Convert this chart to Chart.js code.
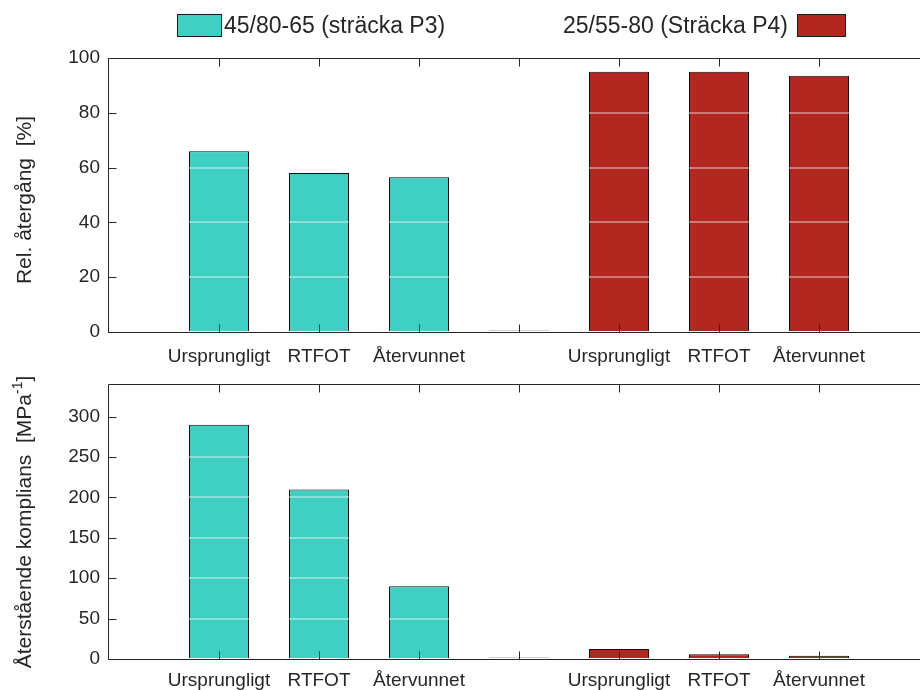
<!DOCTYPE html>
<html>
<head>
<meta charset="utf-8">
<script src="https://cdn.jsdelivr.net/npm/chart.js@4.4.1/dist/chart.umd.min.js"></script>
<style>
  html, body { margin: 0; padding: 0; background: #fff; }
  #wrap { position: relative; width: 920px; height: 690px; overflow: hidden;
          font-family: "Liberation Sans", Arial, sans-serif; color: #262626; }
  canvas { position: absolute; left: 0; }
  #recoveryChart { top: 0; }
  #complianceChart { top: 365px; }
  .swatch { position: absolute; top: 14px; height: 23px; box-sizing: border-box; border: 1px solid #1a1a1a; }
  .legtext { position: absolute; top: 14px; height: 23px; line-height: 23px; font-size: 23px; white-space: nowrap; }
  .ytitle { position: absolute; font-size: 21px; line-height: 24px; white-space: nowrap;
            transform: translate(-50%, -50%) rotate(-90deg); }
  .ytitle sup { font-size: 14px; line-height: 0; vertical-align: 9px; }
</style>
</head>
<body>
<div id="wrap">
  <canvas id="complianceChart" width="930" height="325"></canvas>
  <canvas id="recoveryChart" width="930" height="380"></canvas>

  <div class="swatch" id="swP3" style="left:177px; width:45px;"></div>
  <div class="legtext" id="txtP3" style="left:224px;"></div>
  <div class="legtext" id="txtP4" style="right:132px;"></div>
  <div class="swatch" id="swP4" style="left:797px; width:49px;"></div>

  <div class="ytitle" style="left:24px; top:200px;">Rel. återgång&nbsp;&nbsp;[%]</div>
  <div class="ytitle" style="left:24px; top:522px;">Återstående komplians&nbsp;&nbsp;[MPa<sup>-1</sup>]</div>
</div>

<script>
// Binder samples and test conditions
const seriesNames = ['45/80-65 (sträcka P3)', '25/55-80 (Sträcka P4)'];
const groupLabels = ['Ursprungligt', 'RTFOT', 'Återvunnet'];
const p3Positions = [2, 3, 4];
const p4Positions = [6, 7, 8];
const gapPosition = 5;

// Relative recovery [%]
const p3Recovery = [66, 58, 56.5];
const p4Recovery = [95, 95, 93.5];

// Non-recoverable compliance [1/MPa]
const p3Compliance = [290, 210, 90];
const p4Compliance = [12.5, 6, 4];

const recoveryTicks = [0, 20, 40, 60, 80, 100];
const complianceTicks = [0, 50, 100, 150, 200, 250, 300];

const P3_COLOR = '#3fcfc3';
const P4_COLOR = '#b22821';
const INK = '#262626';
const FONT = { family: '"Liberation Sans", Arial, sans-serif', size: 19 };

document.getElementById('swP3').style.background = P3_COLOR;
document.getElementById('swP4').style.background = P4_COLOR;
document.getElementById('txtP3').textContent = seriesNames[0];
document.getElementById('txtP4').textContent = seriesNames[1];

const xTickValues = [...p3Positions, gapPosition, ...p4Positions].sort((a, b) => a - b);

function labelFor(v) {
  let i = p3Positions.indexOf(v);
  if (i >= 0) return groupLabels[i];
  i = p4Positions.indexOf(v);
  if (i >= 0) return groupLabels[i];
  return '';
}

// Axis box with inward tick marks
const frame = {
  id: 'frame',
  afterDraw(chart) {
    const { ctx, chartArea: a, scales: { x, y } } = chart;
    const L = Math.round(a.left) + 0.5;
    const T = Math.round(a.top) + 0.5;
    const B = Math.round(a.bottom) + 0.5;
    ctx.save();
    ctx.strokeStyle = INK;
    ctx.lineWidth = 1;
    ctx.beginPath();
    ctx.moveTo(a.right, T); ctx.lineTo(L, T); ctx.lineTo(L, B); ctx.lineTo(a.right, B);
    x.ticks.forEach(t => {
      const px = Math.round(x.getPixelForValue(t.value)) + 0.5;
      ctx.moveTo(px, B); ctx.lineTo(px, B - 8);
      ctx.moveTo(px, T); ctx.lineTo(px, T + 8);
    });
    y.ticks.forEach(t => {
      const py = Math.round(y.getPixelForValue(t.value)) + 0.5;
      ctx.moveTo(L, py); ctx.lineTo(L + 8, py);
    });
    ctx.stroke();
    ctx.restore();
  }
};

function makeChart(id, p3Values, p4Values, yMax, yTicks, padTop, xHeight, labelPad) {
  const barStyle = { borderColor: '#0d0d0d', borderWidth: 1, grouped: false,
                     barPercentage: 0.6, categoryPercentage: 1 };
  return new Chart(document.getElementById(id), {
    type: 'bar',
    data: {
      datasets: [
        Object.assign({ label: seriesNames[0], backgroundColor: P3_COLOR,
          data: p3Positions.map((x, i) => ({ x, y: p3Values[i] })) }, barStyle),
        Object.assign({ label: 'gap', backgroundColor: '#cfcfcf',
          minBarLength: 2, data: [{ x: gapPosition, y: 0 }] }, barStyle, { borderWidth: 0 }),
        Object.assign({ label: seriesNames[1], backgroundColor: P4_COLOR,
          data: p4Positions.map((x, i) => ({ x, y: p4Values[i] })) }, barStyle)
      ]
    },
    options: {
      responsive: false,
      animation: false,
      layout: { padding: { top: padTop, left: 0, right: 0, bottom: 0 } },
      plugins: { legend: { display: false }, tooltip: { enabled: false } },
      scales: {
        x: {
          type: 'linear', min: 0.89, max: 9.11, offset: false,
          grid: { display: false, offset: false }, border: { display: false },
          afterBuildTicks: s => { s.ticks = xTickValues.map(v => ({ value: v })); },
          afterFit: s => { s.height = xHeight; },
          ticks: { font: FONT, color: INK, padding: labelPad, maxRotation: 0, autoSkip: false,
                   callback: v => labelFor(v) }
        },
        y: {
          min: 0, max: yMax,
          border: { display: false },
          grid: {
            z: 1, drawTicks: false, lineWidth: 2,
            color: c => (c.tick.value === 0 || c.tick.value === yMax) ? 'rgba(0,0,0,0)' : 'rgba(255,255,255,0.38)'
          },
          afterBuildTicks: s => { s.ticks = yTicks.map(v => ({ value: v })); },
          afterFit: s => { s.width = 108; },
          ticks: { font: FONT, color: INK, padding: 8 }
        }
      }
    },
    plugins: [frame]
  });
}

makeChart('recoveryChart', p3Recovery, p4Recovery, 100, recoveryTicks, 58, 48, 5);
makeChart('complianceChart', p3Compliance, p4Compliance, 340, complianceTicks, 19, 31, 2);
</script>
</body>
</html>
